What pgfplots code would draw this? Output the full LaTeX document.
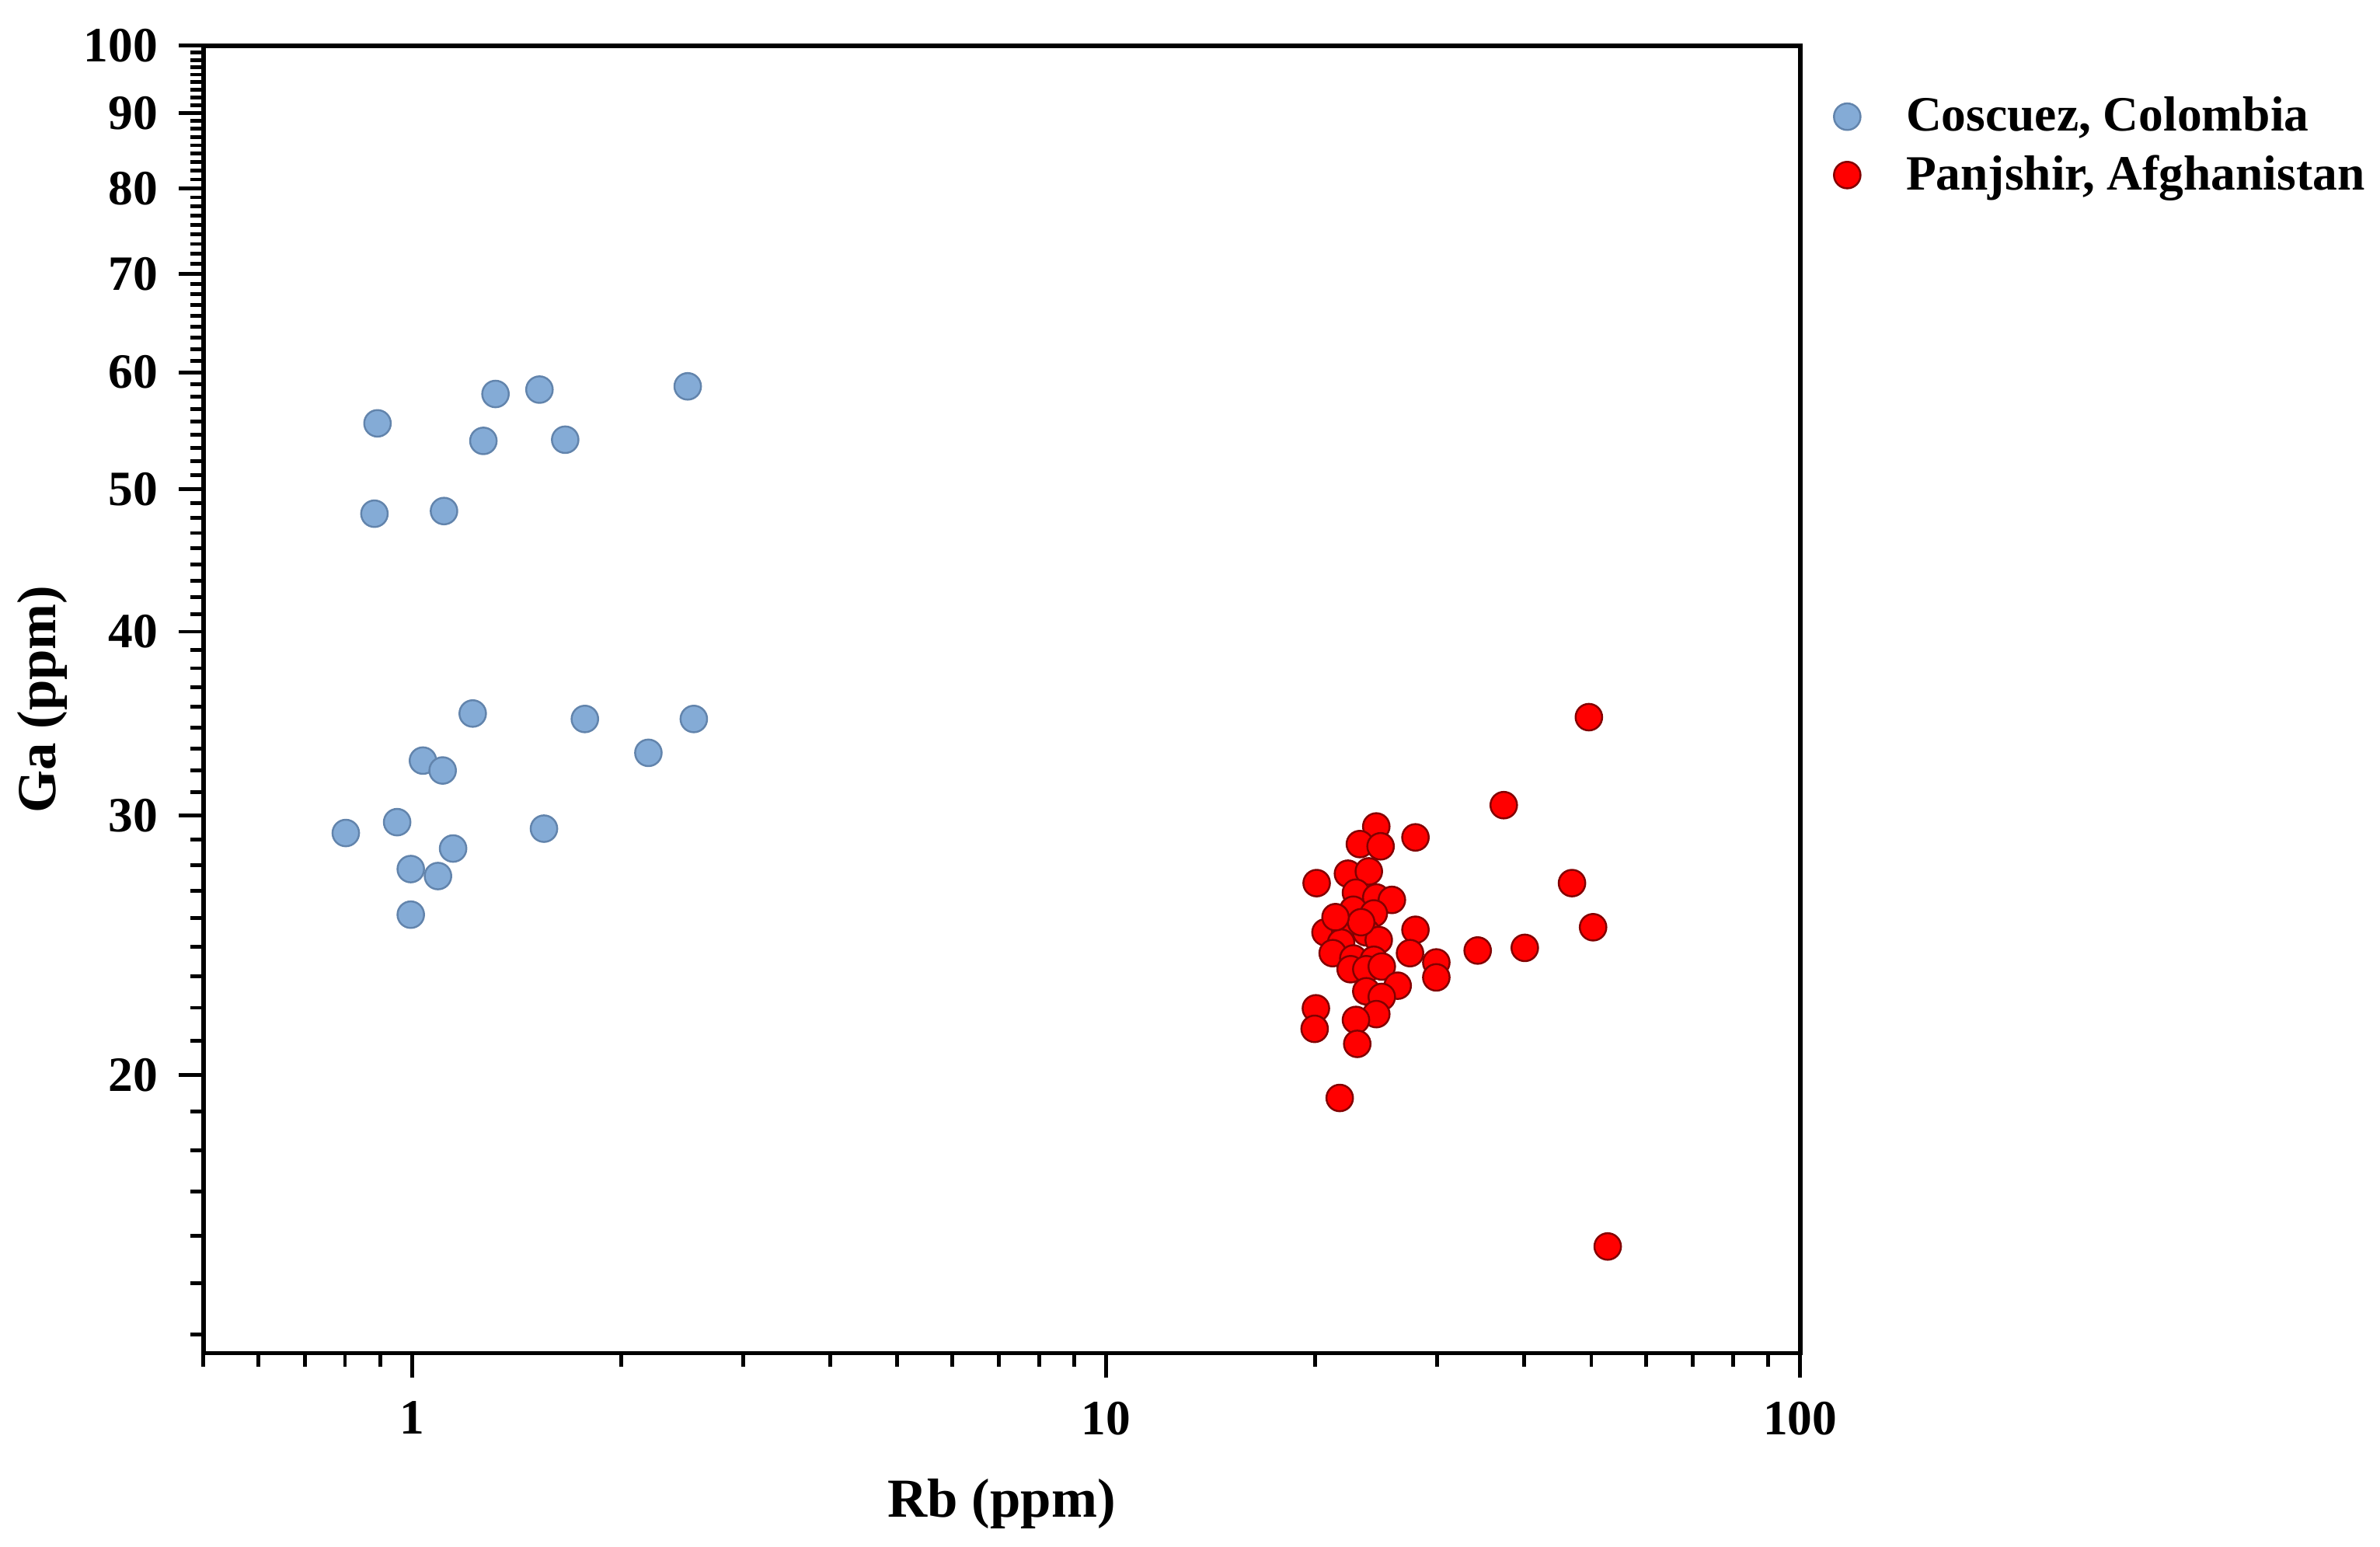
\documentclass[border=0pt]{standalone}
\usepackage{fontspec}
\setmainfont{Liberation Serif}
\usepackage{pgfplots}
\pgfplotsset{compat=1.18}
\definecolor{cblue}{RGB}{132,171,214}
\definecolor{cblueedge}{RGB}{98,132,172}
\definecolor{cred}{RGB}{255,0,0}
\definecolor{credge}{RGB}{130,0,0}
\begin{document}
\begin{tikzpicture}
\useasboundingbox (-53.6pt,-51pt) rectangle (573.6pt,356.6pt);
\begin{axis}[
  scale only axis, width=420.8pt, height=344.6pt,
  xmode=log, ymode=log,
  xmin=0.5, xmax=100, ymin=12.95, ymax=100,
  axis line style={line width=1.2pt},
  tick pos=left, tick align=outside,
  major tick length=6.5pt, minor tick length=3.5pt,
  tick style={black, line width=1pt},
  xtick={1,10,100},
  xticklabels={\textbf{1},\textbf{10},\textbf{100}},
  minor xtick={0.5,0.6,0.7,0.8,0.9,2,3,4,5,6,7,8,9,20,30,40,50,60,70,80,90},
  ytick={20,30,40,50,60,70,80,90,100},
  yticklabels={\textbf{20},\textbf{30},\textbf{40},\textbf{50},\textbf{60},\textbf{70},\textbf{80},\textbf{90},\textbf{100}},
  minor ytick={13.33,14.44,15.56,16.67,17.78,18.89,
    21.11,22.22,23.33,24.44,25.56,26.67,27.78,28.89,
    31.11,32.22,33.33,34.44,35.56,36.67,37.78,38.89,
    41.11,42.22,43.33,44.44,45.56,46.67,47.78,48.89,
    51.11,52.22,53.33,54.44,55.56,56.67,57.78,58.89,
    61.11,62.22,63.33,64.44,65.56,66.67,67.78,68.89,
    71.11,72.22,73.33,74.44,75.56,76.67,77.78,78.89,
    81.11,82.22,83.33,84.44,85.56,86.67,87.78,88.89,
    91.11,92.22,93.33,94.44,95.56,96.67,97.78,98.89},
  ticklabel style={font=\fontsize{13}{15}\selectfont},
  yticklabel style={xshift=-2pt},
  xticklabel style={yshift=-2.8pt},
  xlabel={\textbf{Rb (ppm)}}, ylabel={\textbf{Ga (ppm)}},
  label style={font=\fontsize{14.5}{17}\selectfont},
  xlabel style={at={(axis description cs:0.5,-0.115)}, anchor=center},
  ylabel style={at={(axis description cs:-0.1008,0.5)}, anchor=center},
  legend style={at={(axis description cs:1,1)}, anchor=north west,
    xshift=5.7pt, yshift=-9.3pt, draw=none, fill=none, row sep=0.8pt,
    font=\bfseries\fontsize{13}{15}\selectfont,
    /tikz/every odd column/.append style={column sep=10pt}},
  legend cell align=left,
]
\addplot[only marks, mark=*, mark size=3.5pt,
  mark options={fill=cblue, draw=cblueedge, line width=0.5pt}]
  table[row sep=\\] {
x y\\
0.891 55.4\\
0.882 48.1\\
1.318 58.0\\
1.525 58.4\\
1.266 53.9\\
1.661 54.0\\
1.111 48.3\\
2.494 58.7\\
1.222 35.2\\
1.773 34.9\\
2.545 34.9\\
2.189 33.1\\
1.036 32.7\\
1.106 32.2\\
0.802 29.2\\
0.951 29.7\\
1.548 29.4\\
1.145 28.5\\
0.995 27.6\\
1.089 27.3\\
0.995 25.7\\
};
\addlegendentry{Coscuez, Colombia}
\addplot[only marks, mark=*, mark size=3.5pt,
  mark options={fill=cred, draw=credge, line width=0.5pt}]
  table[row sep=\\] {
x y\\
49.6 35.0\\
37.4 30.5\\
27.9 29.0\\
24.5 29.5\\
23.2 28.7\\
24.85 28.6\\
20.1 27.0\\
22.3 27.4\\
23.9 27.5\\
46.9 27.0\\
22.9 26.6\\
24.5 26.4\\
25.8 26.3\\
22.7 25.9\\
24.3 25.75\\
50.3 25.2\\
27.9 25.1\\
20.7 25.0\\
22.1 25.1\\
23.7 25.0\\
24.7 24.7\\
23.3 25.4\\
21.8 24.6\\
21.4 25.6\\
27.4 24.2\\
21.2 24.2\\
22.7 24.0\\
24.3 23.95\\
34.3 24.3\\
40.1 24.4\\
29.9 23.85\\
29.9 23.3\\
22.5 23.6\\
23.7 23.6\\
24.95 23.7\\
26.3 23.0\\
23.7 22.8\\
24.95 22.6\\
24.5 22.0\\
22.9 21.8\\
20.05 22.2\\
19.97 21.5\\
23.0 21.0\\
21.7 19.3\\
52.8 15.3\\
};
\addlegendentry{Panjshir, Afghanistan}
\end{axis}
\end{tikzpicture}
\end{document}
